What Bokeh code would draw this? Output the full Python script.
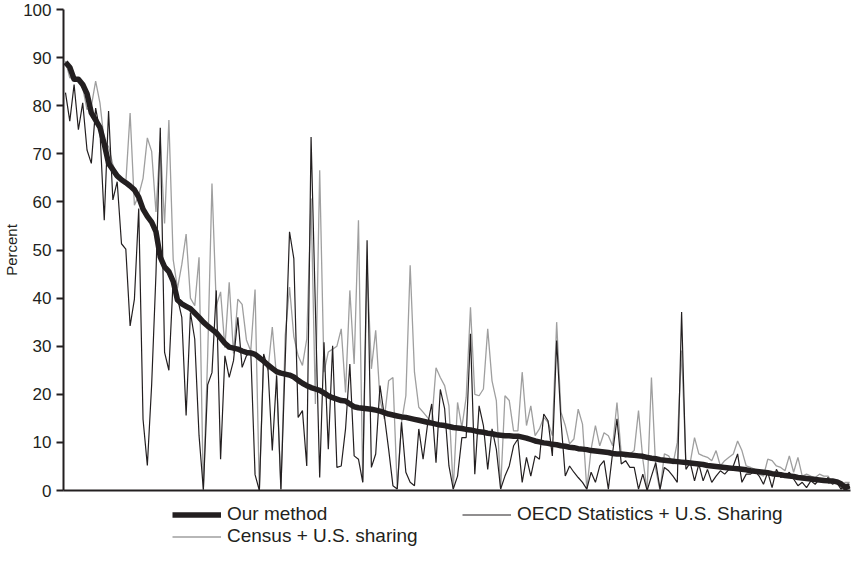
from bokeh.plotting import figure
from bokeh.layouts import column
from bokeh.models import Range1d, FixedTicker, Legend, LegendItem
from bokeh.embed import file_html
from bokeh.resources import INLINE

# ---- data (percent, countries ordered by "Our method") ----
our_method = [
    89, 88, 85.5, 85.5, 84.4, 82.5, 78.5, 77, 75.5, 72, 68, 66.7, 65.4, 64.6, 64, 63.3, 62.5, 61, 58.5, 57,
    55.8, 53.8, 48.5, 46.5, 45.5, 43.5, 39.6, 38.8, 38.3, 37.8, 36.9, 36, 35, 34.2, 33.5, 32.8, 31.7, 30.6, 29.8, 29.6,
    29.4, 29, 28.7, 28.6, 28.3, 27.6, 26.9, 26.1, 25.4, 24.7, 24.4, 24.2, 24, 23.6, 22.9, 22.3, 21.8, 21.4, 21.1, 20.8,
    20.3, 19.7, 19.3, 19, 18.7, 18.6, 18, 17.4, 17.2, 17.1, 17, 16.9, 16.7, 16.5, 16.2, 15.9, 15.7, 15.5, 15.3, 15.2,
    15, 14.8, 14.6, 14.4, 14.2, 14, 13.8, 13.6, 13.5, 13.3, 13.1, 13, 12.9, 12.7, 12.6, 12.4, 12.2, 12.1, 11.9, 11.8,
    11.6, 11.5, 11.4, 11.4, 11.3, 11.3, 11.1, 10.9, 10.6, 10.3, 10.1, 9.9, 9.8, 9.6, 9.5, 9.3, 9.2, 9.0, 8.9, 8.7,
    8.6, 8.5, 8.3, 8.2, 8.1, 8, 7.9, 7.7, 7.6, 7.6, 7.5, 7.4, 7.3, 7.2, 7.1, 6.9, 6.7, 6.6, 6.4, 6.3,
    6.2, 6.1, 6, 5.9, 5.8, 5.7, 5.6, 5.5, 5.4, 5.2, 5.1, 5, 4.9, 4.8, 4.7, 4.6, 4.5, 4.4, 4.3, 4.1,
    4, 3.9, 3.8, 3.7, 3.5, 3.4, 3.3, 3.1, 3, 2.9, 2.7, 2.6, 2.5, 2.4, 2.3, 2.2, 2.1, 2, 2, 1.8,
    1.4, 0.6, 1,
]
oecd = [
    82.7, 76.8, 84.4, 75, 80.6, 70.8, 68, 79.5, 74.7, 56.2, 78.9, 60.4, 64.2, 51.3, 50.2, 34.2, 39.8, 58.6, 14.8, 5.2,
    22, 45, 75.4, 28.7, 25, 44, 40, 36, 15.6, 37, 31.5, 11.4, 0.2, 22, 24.5, 41.6, 6.5, 28, 23.5, 27,
    36, 25.6, 28, 29, 3.3, 0, 28.4, 25.3, 8.3, 23.9, 0.3, 27, 53.8, 48.2, 15.2, 16.6, 5.1, 73.5, 38, 2.7,
    30.8, 8.6, 30.1, 4.8, 5.1, 12.8, 26.3, 7.2, 6.5, 1.7, 52, 4.8, 7.6, 21.8, 15.6, 8.6, 1, 0.3, 14.2, 3.8,
    1.7, 1, 12.8, 6.5, 13.5, 18, 5.8, 21, 17, 5.1, 0.3, 3, 11, 11, 32.6, 3.4, 17.6, 13.5, 4.4, 12.8,
    8.6, 0.3, 3, 5.1, 9.3, 10.7, 1.7, 6.9, 3, 7.2, 6.5, 15.9, 14.5, 7.2, 31.2, 14.5, 3, 5.1, 3.8, 2.7,
    1.7, 0.3, 3.8, 1.7, 5.1, 6.2, 0.3, 7.9, 14.9, 5.5, 6.2, 4.8, 4.8, 0.3, 3.4, 0, 3, 5.8, 0.3, 4.8,
    4.1, 3, 1.7, 37.1, 4.4, 5.8, 2, 5.5, 2, 4.4, 1.7, 3, 4.1, 3.4, 4.4, 5.1, 7.6, 1.7, 3.4, 3.4,
    4.1, 3, 1.3, 3.8, 0.6, 4.4, 2.7, 3, 3.8, 2.4, 1, 1.7, 0.6, 2, 1.3, 2.4, 1.7, 2.7, 1.3, 1.7,
    0.3, 1.3, 1.3,
]
census = [
    89.3, 85.8, 85.8, 85.1, 83.7, 79.2, 79.9, 85.1, 80.6, 72.6, 71.5, 67.7, 65.6, 64.2, 63.9, 78.5, 59.3, 61.4, 64.9, 73.3,
    70.5, 57.9, 72.6, 55.5, 77, 48, 42, 47, 53.3, 40, 38.4, 48.5, 0, 28, 63.8, 38.4, 41.3, 29.7, 43.3, 28.5,
    39.8, 38.7, 31.3, 29, 41.8, 0, 27.7, 25, 34, 23.5, 0, 32.2, 42.3, 32, 28, 26, 31.5, 60.7, 18, 66.6,
    24.6, 28.8, 29.4, 30, 33.6, 20.4, 41.6, 26.3, 56.2, 1.7, 46.8, 25.3, 33.3, 19, 14.9, 22.8, 23.5, 0.3, 14.2, 19.7,
    46.8, 24.6, 17.3, 16.3, 15.2, 14.2, 25.5, 23.5, 21.8, 17.6, 0.3, 18.3, 13.1, 19.4, 38.1, 20, 19.7, 21.1, 33.6, 22.8,
    18.7, 0.3, 19.7, 18.7, 12.4, 12.4, 24.6, 13.5, 17.6, 11.4, 12.8, 15.2, 14.2, 11.4, 35, 16.3, 13.5, 9.7, 10.7, 16.9,
    13.8, 0.3, 8.6, 13.5, 9.3, 12, 11.4, 9.3, 18.3, 7.6, 6.9, 7.6, 8.3, 16.6, 6.5, 0, 23.5, 4.4, 0, 7.6,
    7.2, 5.5, 10, 29.1, 5.8, 5.8, 11, 7.6, 7.2, 6.9, 6.2, 8.3, 5.1, 6.2, 6.9, 7.6, 10.3, 8.3, 5.1, 4.8,
    4.4, 3.4, 3, 6.5, 6.2, 5.1, 4.8, 4.1, 7.2, 3.8, 6.9, 3, 3.4, 3, 2.7, 3.4, 3, 3, 1.7, 2,
    1, 1.7, 1.7,
]
countries = list(range(len(our_method)))   # one position per country
y_ticks = [0, 10, 20, 30, 40, 50, 60, 70, 80, 90, 100]
series_names = ["Our method", "Census + U.S. sharing", "OECD Statistics + U.S. Sharing"]

INK = "#231f20"
GREY = "#9f9f9f"
FONT = "Liberation Sans"
STYLES = {
    "census": dict(line_color=GREY, line_width=1.3),
    "oecd": dict(line_color=INK, line_width=1.2),
    "ours": dict(line_color=INK, line_width=5.5, line_join="round"),
}

# ---------------- main chart ----------------
p = figure(width=852, height=499, output_backend="svg", toolbar_location=None,
           x_range=Range1d(-0.46, len(countries) - 0.8), y_range=Range1d(0, 100),
           min_border_left=59, min_border_right=2, min_border_top=9, min_border_bottom=9)
p.outline_line_color = None
p.grid.visible = False

p.line(countries, census, **STYLES["census"])
p.line(countries, oecd, **STYLES["oecd"])
p.line(countries, our_method, **STYLES["ours"])

ya = p.yaxis[0]
ya.ticker = FixedTicker(ticks=y_ticks)
ya.minor_tick_line_color = None
ya.major_tick_out = 7
ya.major_tick_in = 0
ya.major_tick_line_width = 2
ya.major_tick_line_color = INK
ya.axis_line_width = 2
ya.axis_line_color = INK
ya.major_label_text_font = FONT
ya.major_label_text_font_size = "17px"
ya.major_label_text_color = INK
ya.major_label_standoff = 5
ya.axis_label = "Percent"
ya.axis_label_text_font = FONT
ya.axis_label_text_font_size = "15px"
ya.axis_label_text_font_style = "normal"
ya.axis_label_text_color = INK
ya.axis_label_standoff = 0

xa = p.xaxis[0]
xa.ticker = FixedTicker(ticks=[])
xa.minor_tick_line_color = None
xa.major_tick_line_color = None
xa.major_label_text_font_size = "0px"
xa.axis_line_width = 2
xa.axis_line_color = INK

# ---------------- legend strip under the chart ----------------
# same series drawn again, but outside this strip's y range, so only the legend shows
lf = figure(width=852, height=48, output_backend="svg", toolbar_location=None,
            x_range=Range1d(-0.46, len(countries) - 0.8), y_range=Range1d(-20, -10),
            min_border_left=0, min_border_right=0, min_border_top=0, min_border_bottom=0,
            x_axis_location=None, y_axis_location=None)
lf.outline_line_color = None
lf.grid.visible = False
l_census = lf.line(countries, census, **STYLES["census"])
l_oecd = lf.line(countries, oecd, **STYLES["oecd"])
l_ours = lf.line(countries, our_method, **STYLES["ours"])

legend = Legend(items=[
    LegendItem(label=series_names[0], renderers=[l_ours]),
    LegendItem(label=series_names[1], renderers=[l_census]),
    LegendItem(label=series_names[2], renderers=[l_oecd]),
], location=(109, 0), orientation="vertical", nrows=2,
    glyph_width=49, glyph_height=19, label_height=19, label_width=235,
    label_standoff=6, spacing=0, padding=0, margin=0,
    border_line_color=None, background_fill_alpha=0,
    label_text_font=FONT, label_text_font_size="19px", label_text_color=INK)
lf.add_layout(legend, "center")

layout = column(p, lf, spacing=0)
open("out.html", "w").write(file_html(layout, INLINE))
